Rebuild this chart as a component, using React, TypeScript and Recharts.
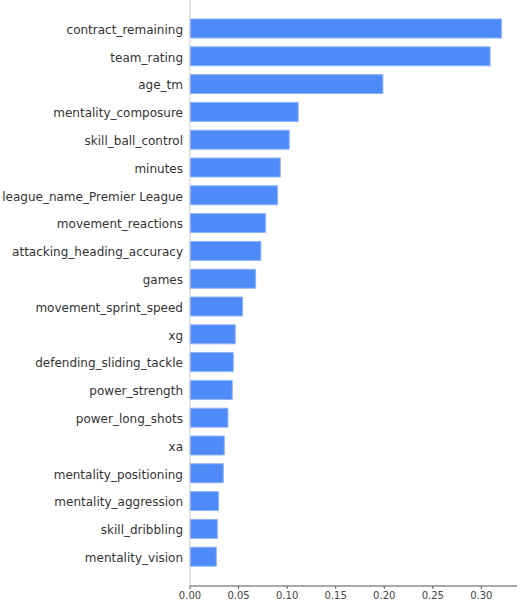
import { BarChart, Bar, XAxis, YAxis } from "recharts"

const features = [
  "contract_remaining",
  "team_rating",
  "age_tm",
  "mentality_composure",
  "skill_ball_control",
  "minutes",
  "league_name_Premier League",
  "movement_reactions",
  "attacking_heading_accuracy",
  "games",
  "movement_sprint_speed",
  "xg",
  "defending_sliding_tackle",
  "power_strength",
  "power_long_shots",
  "xa",
  "mentality_positioning",
  "mentality_aggression",
  "skill_dribbling",
  "mentality_vision",
]

const importances = [
  0.3207, 0.309, 0.1986, 0.1114, 0.1022, 0.0929, 0.0902, 0.0779, 0.073, 0.0676,
  0.0542, 0.0466, 0.0446, 0.0435, 0.0391, 0.0353, 0.0343, 0.0295, 0.0281, 0.0271,
]

const xTicks = [0, 0.05, 0.1, 0.15, 0.2, 0.25, 0.3]

const data = features.map((name, i) => ({ name, value: importances[i] }))

// plain single-line label, recharts would otherwise wrap long names
function FeatureTick(props: any) {
  const { x, y, payload } = props
  return (
    <text x={x} y={y} dy="0.4em" textAnchor="end" fontSize={12} fill="#333333" fontFamily="DejaVu Sans">
      {payload.value}
    </text>
  )
}

export default function App() {
  return (
    <div style={{ position: "absolute", left: 0, top: 0, fontFamily: "DejaVu Sans" }}>
      <BarChart
        width={520}
        height={601}
        data={data}
        layout="vertical"
        margin={{ top: 0, right: 3, bottom: 0, left: 0 }}
      >
        <YAxis
          type="category"
          dataKey="name"
          width={190}
          tickLine={false}
          tickSize={0}
          tickMargin={7}
          axisLine={{ stroke: "#cccccc" }}
          tick={<FeatureTick />}
          padding={{ top: 15, bottom: 15 }}
          interval={0}
        />
        <XAxis
          type="number"
          domain={[0, 0.3367]}
          ticks={xTicks}
          tickFormatter={(v: number) => v.toFixed(2)}
          height={15}
          tickSize={3}
          tickMargin={3}
          axisLine={{ stroke: "#555555" }}
          tickLine={{ stroke: "#555555" }}
          tick={{ fontSize: 10, fill: "#444444", fontFamily: "DejaVu Sans" }}
        />
        <Bar
          dataKey="value"
          fill="#4f8bf8"
          stroke="#8cb4fa"
          strokeWidth={1}
          barSize={19}
          isAnimationActive={false}
        />
      </BarChart>
    </div>
  )
}
